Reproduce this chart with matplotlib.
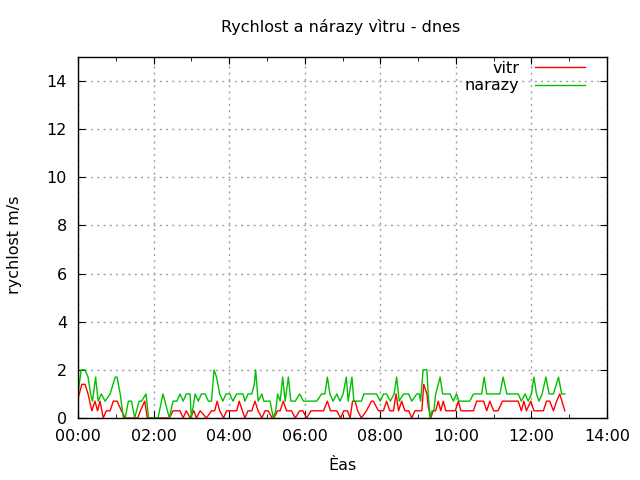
import numpy as np
import matplotlib
matplotlib.use("Agg")
import matplotlib.pyplot as plt
from matplotlib.ticker import MultipleLocator

# minutes since midnight and values
vitr_min = [0, 6, 11, 16, 22, 27, 31, 35, 40, 45, 51, 56, 62, 69, 75, 95, 99, 106, 110,
            145, 151, 162, 167, 172, 178, 184, 188, 194, 204, 212, 217, 221, 225, 231,
            236, 252, 256, 261, 265, 270, 276, 281, 286, 292, 297, 302, 308, 311, 317,
            321, 326, 331, 339, 345, 352, 357, 363, 370, 390, 396, 401, 411, 417, 422,
            428, 432, 436, 440, 444, 450, 458, 466, 469, 477, 485, 490, 495, 501, 505,
            509, 514, 519, 525, 530, 535, 546, 549, 554, 556, 560, 564, 568, 572, 576,
            580, 584, 599, 604, 608, 628, 633, 644, 649, 654, 660, 667, 674, 699, 704,
            708, 712, 719, 724, 739, 744, 749, 755, 760, 765, 773]
vitr = [0.8, 1.4, 1.4, 1.0, 0.3, 0.7, 0.3, 0.7, 0.0, 0.3, 0.3, 0.7, 0.7, 0.3, 0.0, 0.0, 0.3, 0.7, 0.0,
        0.0, 0.3, 0.3, 0.0, 0.3, 0.0, 0.3, 0.0, 0.3, 0.0, 0.3, 0.3, 0.7, 0.3, 0.0,
        0.3, 0.3, 0.7, 0.3, 0.0, 0.3, 0.3, 0.7, 0.3, 0.0, 0.3, 0.3, 0.0, 0.0, 0.3,
        0.3, 0.7, 0.3, 0.3, 0.0, 0.3, 0.3, 0.0, 0.3, 0.3, 0.7, 0.3, 0.3, 0.0, 0.3,
        0.3, 0.0, 0.7, 0.7, 0.3, 0.0, 0.3, 0.7, 0.7, 0.3, 0.3, 0.7, 0.3, 0.3, 1.0,
        0.3, 0.7, 0.3, 0.3, 0.0, 0.3, 0.3, 1.4, 1.0, 0.5, 0.0, 0.3, 0.3, 0.7, 0.3,
        0.7, 0.3, 0.3, 0.7, 0.3, 0.3, 0.7, 0.7, 0.3, 0.7, 0.3, 0.3, 0.7, 0.7, 0.3,
        0.7, 0.3, 0.7, 0.3, 0.3, 0.7, 0.7, 0.3, 0.7, 1.0, 0.3]

narazy_min = [0, 5, 11, 16, 20, 23, 28, 32, 37, 43, 51, 59, 62, 67, 72, 75, 80, 85, 90, 97,
              101, 108, 112, 127, 135, 145, 151, 157, 162, 167, 172, 178, 180, 186, 191,
              196, 202, 207, 212, 216, 220, 225, 230, 235, 241, 246, 252, 257, 262, 265,
              270, 276, 280, 282, 284, 286, 292, 295, 305, 310, 314, 317, 321, 325, 329,
              334, 338, 345, 352, 358, 379, 387, 392, 396, 400, 405, 411, 416, 421, 426,
              429, 435, 438, 450, 454, 474, 480, 485, 490, 496, 502, 506, 510, 517, 525,
              530, 538, 542, 544, 548, 554, 556, 559, 562, 565, 568, 575, 579, 591, 596,
              601, 605, 622, 628, 641, 645, 649, 670, 675, 681, 699, 704, 710, 715, 720,
              724, 728, 732, 737, 743, 748, 755, 763, 768, 773]
narazy = [1.0, 2.0, 2.0, 1.7, 1.0, 0.7, 1.7, 0.7, 1.0, 0.7, 1.0, 1.7, 1.7, 1.0, 0.0, 0.0, 0.7, 0.7, 0.0, 0.7,
          0.7, 1.0, 0.0, 0.0, 1.0, 0.0, 0.7, 0.7, 1.0, 0.7, 1.0, 1.0, 0.0, 1.0, 0.7,
          1.0, 1.0, 0.7, 0.7, 2.0, 1.7, 1.0, 0.7, 1.0, 1.0, 0.7, 1.0, 1.0, 1.0, 0.7,
          1.0, 1.0, 1.4, 2.0, 1.4, 0.7, 1.0, 0.7, 0.7, 0.0, 0.3, 1.0, 0.7, 1.7, 0.7,
          1.7, 0.7, 0.7, 1.0, 0.7, 0.7, 1.0, 1.0, 1.7, 1.0, 0.7, 1.0, 0.7, 1.0, 1.7,
          0.7, 1.7, 0.7, 0.7, 1.0, 1.0, 0.7, 1.0, 1.0, 0.7, 1.0, 1.7, 0.7, 1.0, 1.0,
          0.7, 1.0, 1.0, 0.7, 2.0, 2.0, 1.0, 0.0, 0.3, 0.3, 1.0, 1.7, 1.0, 1.0, 0.7,
          1.0, 0.7, 0.7, 1.0, 1.0, 1.7, 1.0, 1.0, 1.7, 1.0, 1.0, 0.7, 1.0, 0.7, 1.0,
          1.7, 1.0, 0.7, 1.0, 1.7, 1.0, 1.0, 1.7, 1.0, 1.0]

xtick_hours = [0, 2, 4, 6, 8, 10, 12, 14]
xtick_labels = ["00:00", "02:00", "04:00", "06:00", "08:00", "10:00", "12:00", "14:00"]

plt.rcParams['font.family'] = ['DejaVu Sans']
FS = 11.5

fig = plt.figure(figsize=(6.4, 4.8), dpi=100)
# plot box: x 78..607 px, y 57..418 px
ax = fig.add_axes([78 / 640, 1 - 418 / 480, 529 / 640, 361 / 480])

ax.plot(np.array(vitr_min) / 60.0, vitr, color="#ff0000", lw=1, label="vitr")
ax.plot(np.array(narazy_min) / 60.0, narazy, color="#00c000", lw=1, label="narazy")

ax.set_xlim(0, 14)
ax.set_ylim(0, 15)
ax.set_xticks(xtick_hours)
ax.set_xticklabels(xtick_labels)
ax.xaxis.set_minor_locator(MultipleLocator(1))
ax.set_yticks(range(0, 15, 2))
ax.tick_params(which="both", direction="in", top=True, right=True, labelsize=FS)
ax.tick_params(axis="x", pad=8)
ax.tick_params(axis="y", pad=8)
ax.tick_params(which="major", length=5)
ax.tick_params(which="minor", length=3)
ax.grid(True, which="major", color="#a0a0a0", linestyle=(0, (1.5, 3)), lw=1)
for s in ax.spines.values():
    s.set_linewidth(1)

fig.text(341 / 640, 1 - 27 / 480, "Rychlost a nárazy vìtru - dnes", fontsize=FS,
         ha="center", va="center")
fig.text((78 + 607) / 2 / 640, 1 - 465 / 480, "Èas", fontsize=FS, ha="center", va="center")
fig.text(15 / 640, 1 - 245 / 480, "rychlost m/s", fontsize=FS, rotation=90,
         ha="center", va="center")

leg = ax.legend(loc="upper right", bbox_to_anchor=(585 / 640, 1 - 61 / 480),
                bbox_transform=fig.transFigure, frameon=False, markerfirst=False,
                fontsize=FS, handlelength=3.1, handletextpad=1.0, borderpad=0,
                borderaxespad=0, labelspacing=0.15)
for t in leg.get_texts():
    t.set_ha("right")

fig.savefig("out.png", dpi=100)
